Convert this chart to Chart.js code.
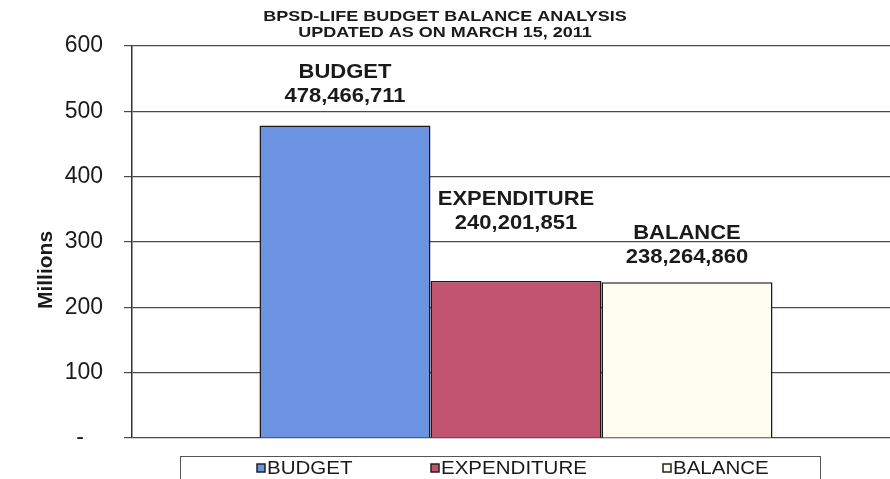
<!DOCTYPE html>
<html>
<head>
<meta charset="utf-8">
<script src="https://cdn.jsdelivr.net/npm/chart.js@4.4.1/dist/chart.umd.min.js"></script>
<style>
  html, body { margin: 0; padding: 0; background: #ffffff; overflow: hidden; }
  /* the plot runs off the right edge of the picture, as in the scan */
  #wrap { width: 900px; height: 479px; position: relative; }
</style>
</head>
<body>
<div id="wrap"><canvas id="budget-chart"></canvas></div>
<script>
// Data (millions on the axis, full amounts in the labels).
var seriesNames = ["BUDGET", "EXPENDITURE", "BALANCE"];
var seriesAmounts = [478466711, 240201851, 238264860];
var seriesColors = ["#6b93e2", "#c3546f", "#fffdf2"];
var yTicks = [0, 100, 200, 300, 400, 500, 600];
var titleLines = ["BPSD-LIFE BUDGET BALANCE ANALYSIS", "UPDATED AS ON MARCH 15, 2011"];

// How far each value label sits above its bar (px).
var labelLift = [29, 58, 25];

var FONT = "'Liberation Sans', Arial, sans-serif";

// Wide text, like the stretched scan.
function wideText(ctx, text, x, y, sx) {
	ctx.save();
	ctx.translate(x, y);
	ctx.scale(sx, 1);
	ctx.fillText(text, 0, 0);
	ctx.restore();
}

// Title, axis title, value labels and boxed legend.
var extras = {
	id: "extras",
	afterDraw: function (chart) {
		var ctx = chart.ctx;
		ctx.save();
		ctx.fillStyle = "#1a1a1a";
		ctx.textAlign = "center";
		ctx.textBaseline = "middle";

		// Title.
		ctx.font = "bold 15px " + FONT;
		wideText(ctx, titleLines[0], 445, 17, 1.2);
		wideText(ctx, titleLines[1], 445, 33, 1.2);

		// Axis title.
		ctx.save();
		ctx.translate(46, 270);
		ctx.rotate(-Math.PI / 2);
		ctx.font = "bold 21px " + FONT;
		ctx.fillText("Millions", 0, 0);
		ctx.restore();

		// Value labels.
		ctx.font = "bold 20px " + FONT;
		chart.data.datasets.forEach(function (ds, i) {
			var bar = chart.getDatasetMeta(i).data[0];
			var y = bar.y - labelLift[i];
			wideText(ctx, ds.label, bar.x, y - 24, 1.1);
			wideText(ctx, seriesAmounts[i].toLocaleString("en-US"), bar.x, y, 1.1);
		});

		// Legend.
		ctx.strokeStyle = "#555555";
		ctx.lineWidth = 1;
		ctx.strokeRect(180.5, 456.5, 640, 30);
		var legendX = [257, 431, 663];
		ctx.font = "19px " + FONT;
		ctx.textAlign = "left";
		chart.data.datasets.forEach(function (ds, i) {
			ctx.fillStyle = ds.backgroundColor;
			ctx.fillRect(legendX[i], 464, 8, 8);
			ctx.strokeStyle = "#222222";
			ctx.lineWidth = 1.5;
			ctx.strokeRect(legendX[i], 464, 8, 8);
			ctx.fillStyle = "#1a1a1a";
			wideText(ctx, ds.label, legendX[i] + 10, 469, 1.08);
		});
		ctx.restore();
	}
};

new Chart(document.getElementById("budget-chart"), {
	type: "bar",
	data: {
		labels: [""],
		datasets: seriesNames.map(function (name, i) {
			return {
				label: name,
				data: [seriesAmounts[i] / 1e6],
				backgroundColor: seriesColors[i],
				borderColor: "#1a1a1a",
				borderWidth: 1.5,
				categoryPercentage: 0.668,
				barPercentage: 1
			};
		})
	},
	options: {
		responsive: true,
		maintainAspectRatio: false,
		animation: false,
		layout: { padding: { top: 46, right: 0, bottom: 33, left: 0 } },
		plugins: {
			legend: { display: false },
			title: { display: false },
			tooltip: { enabled: false }
		},
		scales: {
			x: {
				ticks: { display: false },
				grid: { display: false },
				border: { display: false }
			},
			y: {
				min: 0,
				max: 600,
				afterFit: function (scale) { scale.width = 132; },
				afterBuildTicks: function (scale) {
					scale.ticks = yTicks.map(function (v) { return { value: v }; });
				},
				ticks: {
					color: "#1a1a1a",
					font: { family: FONT, size: 23 },
					padding: 21,
					callback: function (v) { return v === 0 ? "-   " : v; }
				},
				grid: {
					color: "#4a4a4a",
					lineWidth: 1.2,
					tickLength: 8,
					drawTicks: true
				},
				border: { display: true, color: "#333333", width: 1.5 }
			}
		}
	},
	plugins: [extras]
});
</script>
</body>
</html>
